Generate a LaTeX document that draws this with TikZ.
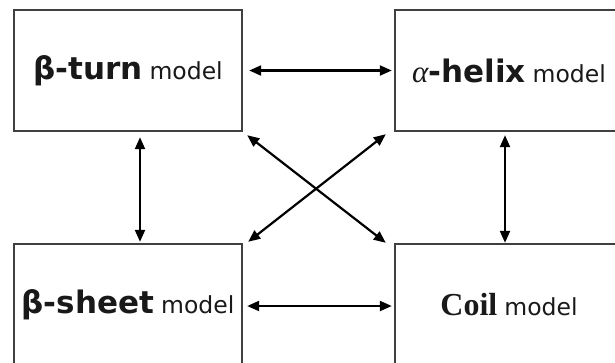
\documentclass[tikz,border=0pt]{standalone}
\usepackage{fontspec}
\setmainfont{DejaVu Sans}
\newfontfamily\timesfont{Liberation Serif}
\usetikzlibrary{arrows.meta}

\newcommand{\kind}[1]{{\fontsize{31bp}{36bp}\selectfont\bfseries #1}}
\newcommand{\mdl}{\hspace{7bp}{\fontsize{23.5bp}{28bp}\selectfont model}}

\begin{document}
\begin{tikzpicture}[x=1bp, y=-1bp,
    box/.style={draw=black!75, line width=2.4bp, minimum width=228bp, minimum height=121bp, inner sep=0pt, text=black!90},
    link/.style={{Triangle[length=12bp,width=10bp]}-{Triangle[length=12bp,width=10bp]}, line width=2.2bp}]
    \useasboundingbox (0,0) rectangle (615,362);
    \clip (0,0) rectangle (615,362);

    % Models
    \node[box] (turn)  at (128, 70.5)  {\kind{β-turn}\mdl};
    \node[box] (helix) at (509, 70.5)  {{\fontsize{31bp}{36bp}\selectfont\timesfont\itshape α}\kind{-helix}\mdl};
    \node[box] (sheet) at (128, 304.5) {\kind{β-sheet}\mdl};
    \node[box] (coil)  at (509, 304.5) {{\fontsize{32bp}{36bp}\selectfont\timesfont\bfseries Coil}\mdl};

    % Links
    \draw[link] ([xshift=6bp]turn.east) -- ([xshift=-2bp]helix.west);
    \draw[link] ([xshift=4bp,yshift=-1.5bp]sheet.east) -- ([xshift=-2bp,yshift=-1.5bp]coil.west);
    \draw[link] ([xshift=12bp,yshift=-5bp]turn.south) -- ([xshift=12bp,yshift=1bp]sheet.north);
    \draw[link] ([xshift=-4bp,yshift=-3bp]helix.south) -- ([xshift=-4bp]coil.north);
    \draw[link] ([shift={(4bp,-3bp)}]turn.south east) -- ([shift={(-8bp,0bp)}]coil.north west);
    \draw[link] ([shift={(-8bp,-2bp)}]helix.south west) -- ([shift={(5bp,1bp)}]sheet.north east);
\end{tikzpicture}
\end{document}
